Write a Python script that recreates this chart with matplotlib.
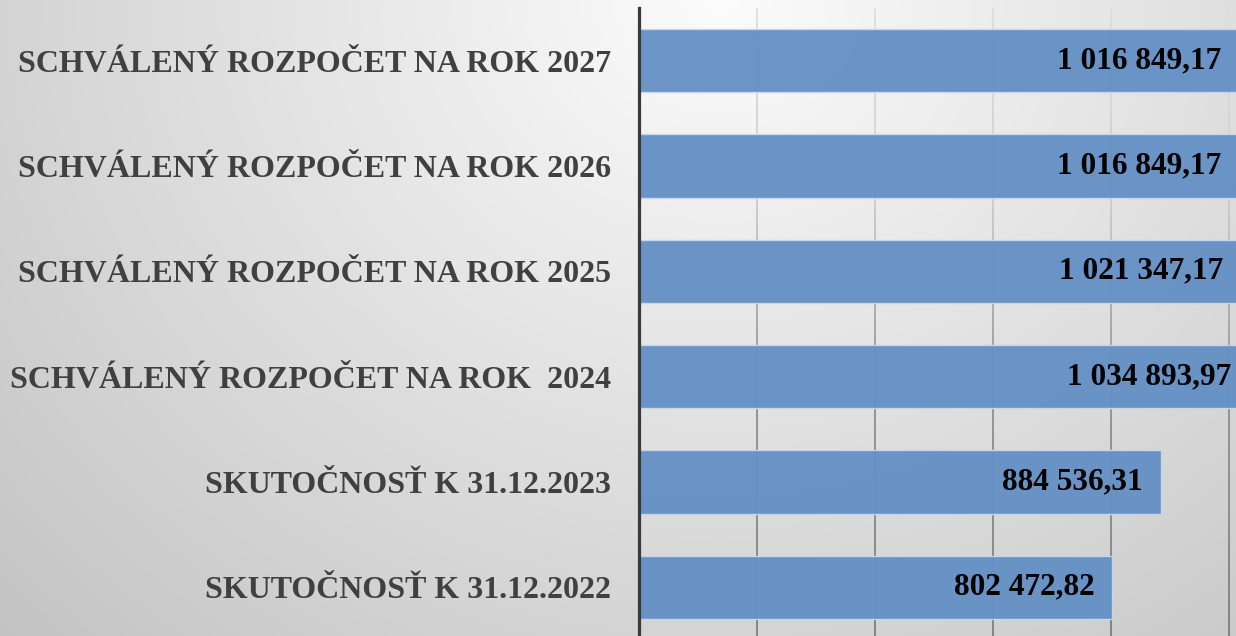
import numpy as np
import matplotlib.pyplot as plt
from matplotlib.collections import LineCollection
import matplotlib.transforms as mtransforms

# data (bottom -> top)
categories = ["SKUTOČNOSŤ K 31.12.2022",
              "SKUTOČNOSŤ K 31.12.2023",
              "SCHVÁLENÝ ROZPOČET NA ROK  2024",
              "SCHVÁLENÝ ROZPOČET NA ROK 2025",
              "SCHVÁLENÝ ROZPOČET NA ROK 2026",
              "SCHVÁLENÝ ROZPOČET NA ROK 2027"]
values = [802472.82, 884536.31, 1034893.97, 1021347.17, 1016849.17, 1016849.17]
grid_ticks = [200000, 400000, 600000, 800000, 1000000]

plt.rcParams['font.family'] = ['Liberation Serif', 'DejaVu Serif']

W, H = 1236, 636
fig = plt.figure(figsize=(W / 100, H / 100), dpi=100)

# background gradient
bg = fig.add_axes([0, 0, 1, 1], zorder=-10)
yy, xx = np.mgrid[0:H, 0:W]
d = np.sqrt((xx - 720.0) ** 2 + ((yy - 0.0) * 1.12) ** 2)
v = np.clip(252 - 0.056 * d, 185, 252) / 255.0
bg.imshow(np.dstack([v, v, v]), aspect='auto', extent=[0, W, H, 0])
bg.axis('off')

# main axes
ax = fig.add_axes([638.5 / W, -4 / H, 649.7 / W, 632 / H])
ax.patch.set_alpha(0)
y = np.arange(len(categories))
ax.set_xlim(0, 1100000)
ax.set_ylim(-0.5, len(categories) - 0.5)

# vertical gridlines, lighter at top, darker below
trans = mtransforms.blended_transform_factory(ax.transData, ax.transAxes)
ys = np.linspace(0, 1, 120)
segs, cols = [], []
for g in grid_ticks:
    for i in range(len(ys) - 1):
        segs.append([(g, ys[i]), (g, ys[i + 1])])
        t = 1 - ys[i]
        c = np.interp(t, [0, 0.3, 0.6, 1.0], [222, 205, 145, 125]) / 255.0
        cols.append((c, c, c))
lc = LineCollection(segs, colors=cols, linewidths=1.3, transform=trans, zorder=1)
ax.add_collection(lc)

ax.barh(y, values, height=0.6, color='#6590c5', edgecolor='#c9d7ea',
        linewidth=1.0, alpha=0.96, zorder=2)

for yi, val in zip(y, values):
    txt = f"{val:,.2f}".replace(",", " ").replace(".", ",")
    ax.annotate(txt, (val, yi), xytext=(-13, 0), textcoords='offset points',
                ha='right', va='center', fontsize=22.5, fontweight='bold',
                color='black', zorder=3)

ax.set_yticks(y)
ax.set_yticklabels(categories, fontsize=23.0, fontweight='bold', color='#404040')
ax.tick_params(axis='y', length=0, pad=20)
ax.set_xticks([])
for s in ['top', 'right', 'bottom']:
    ax.spines[s].set_visible(False)
ax.spines['left'].set_color('#3a3a3a')
ax.spines['left'].set_linewidth(2.3)
ax.spines['left'].set_zorder(5)

fig.savefig('out.png', dpi=100)
